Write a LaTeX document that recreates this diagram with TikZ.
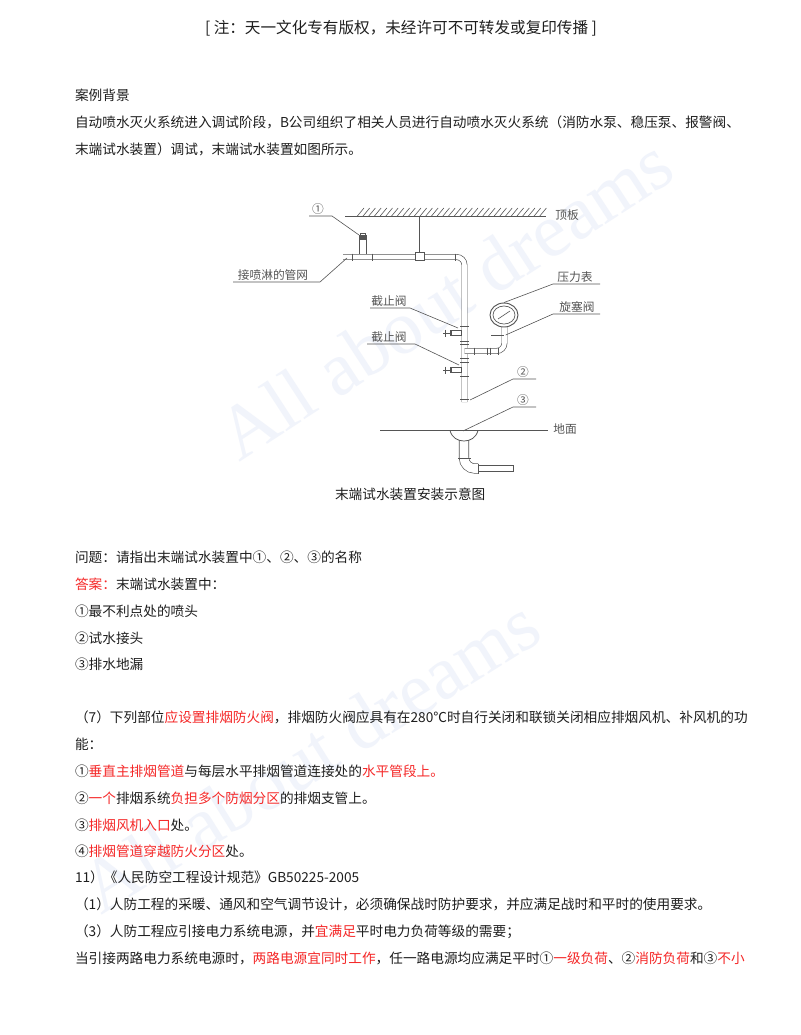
\documentclass[tikz,border=0pt]{standalone}
\usepackage{fontspec}
\usetikzlibrary{shapes.geometric}
\setmainfont{Noto Sans CJK SC}
\newfontfamily\wmfont{Liberation Serif}
\definecolor{txt}{HTML}{1E1E1E}
\definecolor{redt}{HTML}{F52828}
\definecolor{dia}{HTML}{555555}
\definecolor{wm}{HTML}{F1F4FB}
\newcommand{\rd}[1]{\textcolor{redt}{#1}}
\tikzset{
 x=0.75pt,y=-0.75pt,
 body/.style={anchor=base west,inner sep=0,outer sep=0,font=\fontsize{10.25pt}{12pt}\selectfont,text=txt},
 dlabel/.style={inner sep=0,font=\fontsize{8.8pt}{10pt}\selectfont,text=dia},
 leader/.style={draw=dia,line width=0.45pt},
 pipe/.style={draw=dia,line width=0.5pt,double=white,double distance=3.4pt,rounded corners=6pt},
 spipe/.style={draw=dia,line width=0.5pt,fill=white},
 tick/.style={draw=dia,line width=0.7pt},
 wmark/.style={font=\wmfont\fontsize{57pt}{60pt}\selectfont,text=wm,inner sep=0},
}
\begin{document}
\begin{tikzpicture}
\useasboundingbox (0,0) rectangle (800,1035);
\fill[white] (0,0) rectangle (800,1035);
% watermarks
\node[wmark,rotate=33] (wmA) at (445,298) {All about dreams};
\node[wmark,rotate=32] (wmB) at (310,755) {All about dreams};
% text
\node[anchor=center,inner sep=0,font=\fontsize{11.7pt}{13pt}\selectfont,text=txt] (head) at (401,28) {[\kern2.5pt 注：天一文化专有版权，未经许可不可转发或复印传播\kern2.5pt ]};
\node[body] (l1) at (75,100) {案例背景};
\node[body] (l2) at (75,127) {自动喷水灭火系统进入调试阶段，B公司组织了相关人员进行自动喷水灭火系统（消防水泵、稳压泵、报警阀、};
\node[body] (l3) at (75,154) {末端试水装置）调试，末端试水装置如图所示。};
\node[body] (cap) at (335,499) {末端试水装置安装示意图};
\node[body] (l4) at (75,562) {问题：请指出末端试水装置中①、②、③的名称};
\node[body] (l5) at (75,589) {\rd{答案：}末端试水装置中：};
\node[body] (l6) at (75,616) {①最不利点处的喷头};
\node[body] (l7) at (75,643) {②试水接头};
\node[body] (l8) at (75,669) {③排水地漏};
\node[body] (l9) at (75,722) {（7）下列部位\rd{应设置排烟防火阀}，排烟防火阀应具有在280℃时自行关闭和联锁关闭相应排烟风机、补风机的功};
\node[body] (l10) at (75,749) {能：};
\node[body] (l11) at (75,776) {①\rd{垂直主排烟管道}与每层水平排烟管道连接处的\rd{水平管段上。}};
\node[body] (l12) at (75,803) {②\rd{一个}排烟系统\rd{负担多个防烟分区}的排烟支管上。};
\node[body] (l13) at (75,830) {③\rd{排烟风机入口}处。};
\node[body] (l14) at (75,856) {④\rd{排烟管道穿越防火分区}处。};
\node[body] (l15) at (75,882) {11）《人民防空工程设计规范》GB50225-2005};
\node[body] (l16) at (75,909) {（1）人防工程的采暖、通风和空气调节设计，必须确保战时防护要求，并应满足战时和平时的使用要求。};
\node[body] (l17) at (75,936) {（3）人防工程应引接电力系统电源，并\rd{宜满足}平时电力负荷等级的需要；};
\node[body] (l18) at (75,963) {当引接两路电力系统电源时，\rd{两路电源宜同时工作}，任一路电源均应满足平时①\rd{一级负荷}、②\rd{消防负荷}和③\rd{不小}};
% ceiling
\coordinate (ceilL) at (345,216.5); \coordinate (ceilR) at (546,216.5);
\draw[leader] (ceilL) -- (ceilR);
\foreach \h in {357,362.7,...,540} \draw[leader] (\h,216.5) -- (\h+7,208);
\node[dlabel] (ding) at (567,215) {顶板};
% pipes
\draw[spipe] (359,239) rectangle (366,254.5);
\draw[pipe] (343,257) -- (464.5,257) -- (464.5,402);
\draw[spipe] (450,330.5) rectangle (461,335.5);
\draw[spipe] (450,367.5) rectangle (461,372.5);
\draw[pipe] (464.5,351) -- (504.5,351) -- (504.5,322);
\node[draw=dia,fill=white,line width=0.5pt,minimum width=7pt,minimum height=6pt,inner sep=0] (hbox) at (419.5,256) {};
\coordinate (ceilH) at (419.5,216.5);
\draw[leader] (ceilH) -- (hbox.north);
% sprinkler
\fill[dia] (358.5,235) rectangle (366.5,239);
\draw[dia,line width=0.5pt] (360,235) -- (360,233) -- (365,233) -- (365,235);
% ticks
\foreach \tx in {352.7,372,455} \draw[tick] (\tx,253.5) -- (\tx,260.5);
\foreach \ty in {326,341,344,358,362.5,376,399} \draw[tick] (460,\ty) -- (469,\ty);
\foreach \tx in {474,487,490,498} \draw[tick] (\tx,347.5) -- (\tx,354.5);
% valves handles
\draw[tick] (443,333) -- (452,333); \draw[tick] (445,329.5) -- (445,336.5); \draw[tick] (451,330) -- (451,336);
\draw[tick] (443,370) -- (452,370); \draw[tick] (445,366.5) -- (445,373.5); \draw[tick] (451,367) -- (451,373);
% gauge
\node[draw=dia,line width=0.7pt,ellipse,minimum width=21pt,minimum height=18pt,inner sep=0,fill=white] (gauge) at (504,315) {};
\node[draw=dia,line width=0.5pt,ellipse,minimum width=16.5pt,minimum height=13.5pt,inner sep=0] (gaugeI) at (504,315) {};
\draw[leader] (498,319) -- (510,311);
\draw[tick] (491,335) -- (504,335);
% drain
\draw[spipe] (477,465.5) rectangle (513,471.5);
\draw[pipe,double distance=6.6pt,rounded corners=8pt] (464,440) -- (464,468.5) -- (478,468.5);
\draw[draw=dia,fill=white,line width=0.6pt] (450,430.5) .. controls (452,438) and (458,441) .. (464,441) .. controls (470,441) and (476,438) .. (478,430.5);
\draw[tick] (458,458) -- (471,458);
\draw[tick] (478,463.5) -- (478,473.5);
\draw[tick] (513,465) -- (513,472);
% ground
\coordinate (gndL) at (380,430.3); \coordinate (gndR) at (548,430.3);
\draw[leader] (gndL) -- (gndR);
\node[dlabel] (dimian) at (565,429) {地面};
% labels and leaders
\node[dlabel] (m1) at (318,209) {①};
\coordinate (m1a) at (309,216); \coordinate (m1b) at (332,216); \coordinate (m1c) at (359,235);
\draw[leader] (m1a) -- (m1b) -- (m1c);
\node[dlabel] (net) at (273,275) {接喷淋的管网};
\coordinate (na) at (233,282); \coordinate (nb) at (320,282); \coordinate (nc) at (347,258);
\draw[leader] (na) -- (nb) -- (nc);
\node[dlabel] (v1) at (389,301) {截止阀};
\coordinate (v1a) at (370,308); \coordinate (v1b) at (410,308); \coordinate (v1c) at (458,328);
\draw[leader] (v1a) -- (v1b) -- (v1c);
\node[dlabel] (v2) at (389,337) {截止阀};
\coordinate (v2a) at (367,344); \coordinate (v2b) at (415,344); \coordinate (v2c) at (459,365);
\draw[leader] (v2a) -- (v2b) -- (v2c);
\node[dlabel] (press) at (575,277) {压力表};
\coordinate (pa) at (600,284); \coordinate (pb) at (553,284);
\draw[leader] (pa) -- (pb) -- (gauge.north);
\node[dlabel] (cock) at (577,307) {旋塞阀};
\coordinate (ca) at (600,314); \coordinate (cb) at (553,314); \coordinate (cc) at (505.7,335);
\draw[leader] (ca) -- (cb) -- (cc);
\node[dlabel] (m2) at (523,372) {②};
\coordinate (m2a) at (536,379); \coordinate (m2b) at (513,379); \coordinate (m2c) at (470,400);
\draw[leader] (m2a) -- (m2b) -- (m2c);
\node[dlabel] (m3) at (523,400) {③};
\coordinate (m3a) at (536,407); \coordinate (m3b) at (513,407); \coordinate (m3c) at (463,431);
\draw[leader] (m3a) -- (m3b) -- (m3c);
\end{tikzpicture}
\end{document}
